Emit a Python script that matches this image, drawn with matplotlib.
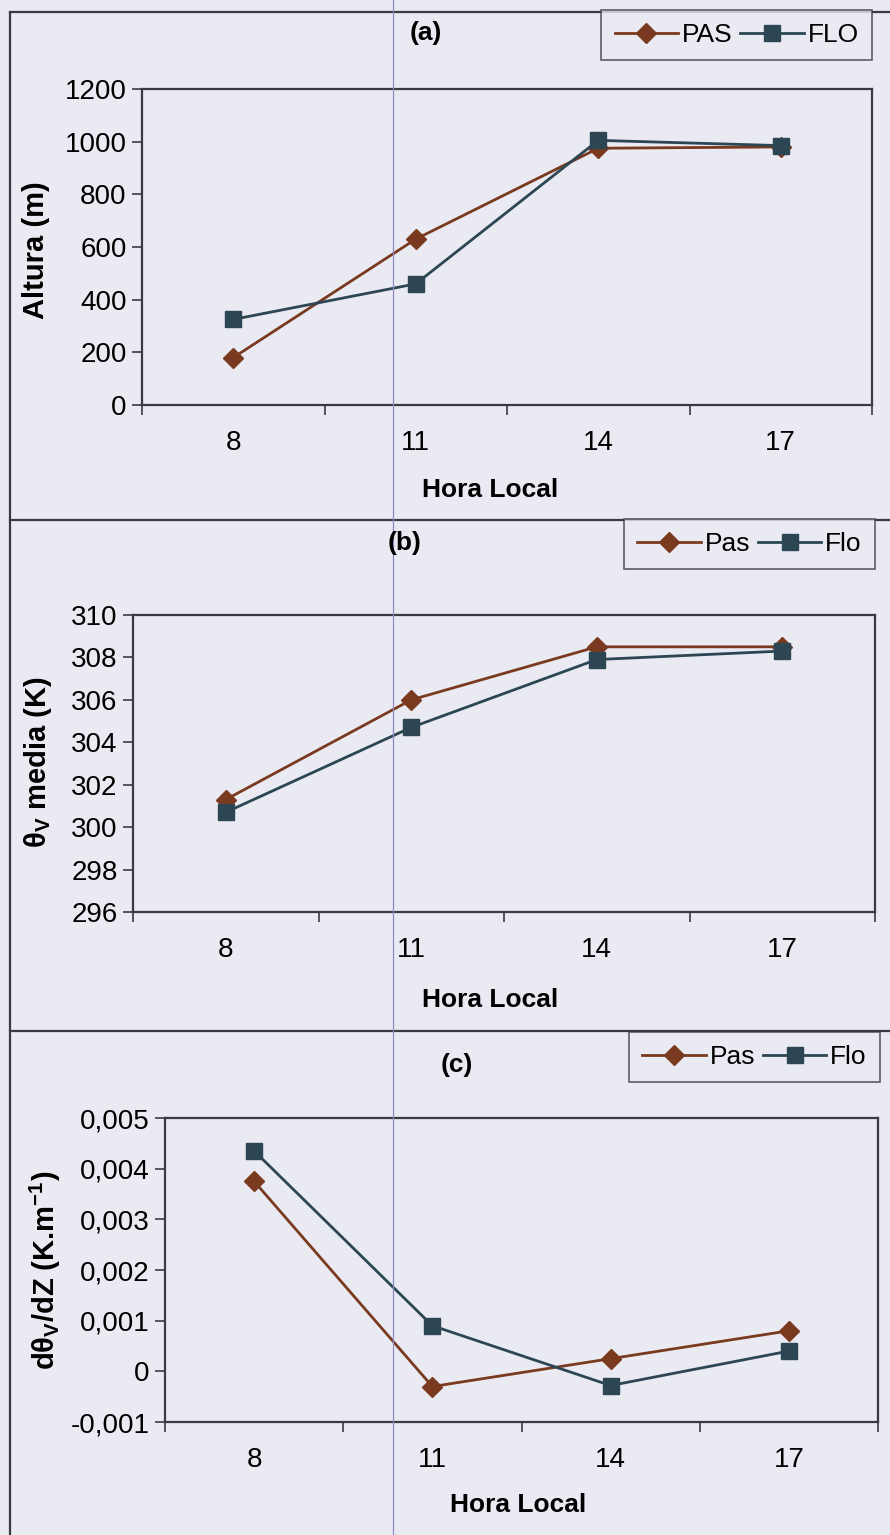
import matplotlib.pyplot as plt
from matplotlib.lines import Line2D
from matplotlib.ticker import FixedLocator, NullFormatter, FixedFormatter

plt.rcParams['font.family'] = ['Liberation Sans', 'DejaVu Sans']
plt.rcParams['mathtext.default'] = 'regular'

horas = ['8', '11', '14', '17']

altura_pas = [180, 630, 975, 980]
altura_flo = [325, 460, 1005, 985]

theta_pas = [301.3, 306.0, 308.5, 308.5]
theta_flo = [300.7, 304.7, 307.9, 308.3]

grad_pas = [0.00375, -0.0003, 0.00025, 0.0008]
grad_flo = [0.00435, 0.0009, -0.00028, 0.0004]

bg = '#eaeaf2'
c_pas = '#7a3a1f'
c_flo = '#2c4653'
c_frame = '#3a3a40'

W, H = 890, 1535
fig = plt.figure(figsize=(W / 100, H / 100), dpi=100, facecolor=bg)


def box(l, r, t, b):
    return [l / W, 1 - b / H, (r - l) / W, (b - t) / H]


def panel(rect, pas, flo, ylim, yticks, ylabels, ylab, ylab_xy, xlab_xy,
          tag, tag_xy, leg_xy, names):
    ax = fig.add_axes(rect, facecolor=bg)
    x = [i + 0.5 for i in range(len(horas))]
    ax.plot(x, pas, color=c_pas, lw=2, marker='D', ms=10, mfc=c_pas, mec=c_pas,
            label=names[0])
    ax.plot(x, flo, color=c_flo, lw=2, marker='s', ms=11, mfc=c_flo, mec=c_flo,
            label=names[1])
    ax.set_xlim(0, len(horas))
    ax.set_ylim(*ylim)

    # Excel-style category axis: ticks between categories, labels centred
    ax.xaxis.set_major_locator(FixedLocator(range(len(horas) + 1)))
    ax.xaxis.set_major_formatter(NullFormatter())
    ax.xaxis.set_minor_locator(FixedLocator(x))
    ax.xaxis.set_minor_formatter(FixedFormatter(horas))
    ax.tick_params(axis='x', which='major', direction='out', length=7,
                   width=1.2, color=c_frame)
    ax.tick_params(axis='x', which='minor', length=0, pad=18, labelsize=20)
    ax.set_yticks(yticks)
    ax.set_yticklabels(ylabels)
    ax.tick_params(axis='y', direction='out', length=7, width=1.2,
                   color=c_frame, labelsize=20, pad=4)
    for s in ax.spines.values():
        s.set_color(c_frame)
        s.set_linewidth(1.6)

    fig.text(ylab_xy[0] / W, 1 - ylab_xy[1] / H, ylab, rotation=90,
             ha='center', va='center', fontsize=21, fontweight='bold')
    fig.text(xlab_xy[0] / W, 1 - xlab_xy[1] / H, 'Hora Local',
             ha='center', va='center', fontsize=19, fontweight='bold')
    fig.text(tag_xy[0] / W, 1 - tag_xy[1] / H, tag,
             ha='center', va='center', fontsize=19, fontweight='bold')

    leg = fig.legend(handles=ax.get_lines(), loc='upper right',
                     bbox_to_anchor=(leg_xy[0] / W, 1 - leg_xy[1] / H),
                     ncol=2, fontsize=19, frameon=True, fancybox=False,
                     handlelength=2.4, handletextpad=0.15, columnspacing=0.3,
                     borderpad=0.5, borderaxespad=0)
    leg.get_frame().set_facecolor(bg)
    leg.get_frame().set_edgecolor(c_frame)
    leg.get_frame().set_linewidth(1.2)
    return ax


panel(box(142, 872, 89, 405), altura_pas, altura_flo, (0, 1200),
      list(range(0, 1201, 200)), [str(v) for v in range(0, 1201, 200)],
      'Altura (m)', (36, 250), (490, 490), '(a)', (426, 33), (872, 10),
      ('PAS', 'FLO'))

panel(box(133, 875, 615, 912), theta_pas, theta_flo, (296, 310),
      list(range(296, 311, 2)), [str(v) for v in range(296, 311, 2)],
      r'θ$_{V}$ media (K)', (38, 762), (490, 1000), '(b)', (405, 543),
      (875, 519), ('Pas', 'Flo'))

grad_ticks = [-0.001, 0, 0.001, 0.002, 0.003, 0.004, 0.005]
grad_labels = ['-0,001', '0', '0,001', '0,002', '0,003', '0,004', '0,005']
panel(box(165, 878, 1118, 1422), grad_pas, grad_flo, (-0.001, 0.005),
      grad_ticks, grad_labels,
      r'dθ$_{V}$/dZ (K.m$^{-1}$)', (45, 1270), (518, 1505), '(c)', (457, 1065),
      (880, 1032), ('Pas', 'Flo'))

# outer frame and separators between the three panels
for xs, ys in [((10, 10), (12, H)), ((10, W), (12, 12)),
               ((10, W), (520, 520)), ((10, W), (1031, 1031))]:
    fig.add_artist(Line2D([v / W for v in xs], [1 - v / H for v in ys],
                          color=c_frame, lw=1.6))
# thin vertical guide line running through all panels
fig.add_artist(Line2D([393 / W, 393 / W], [0, 1], color='#8c8cc8', lw=0.9))

plt.savefig('out.png', dpi=100, facecolor=bg)
